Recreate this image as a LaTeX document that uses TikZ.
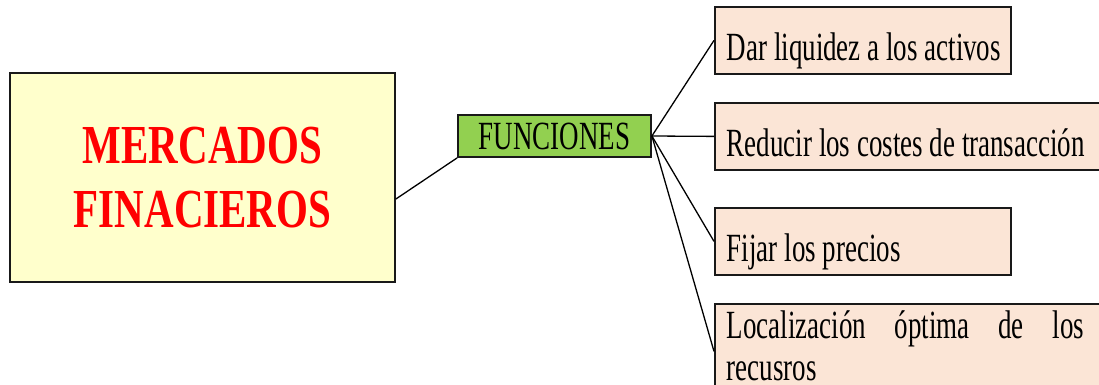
\documentclass[tikz,border=0pt]{standalone}
\usepackage{fontspec}
\setmainfont{Liberation Serif}
\newfontfamily\condfont[FakeStretch=0.674]{Liberation Serif}
\newfontfamily\bigcond[FakeStretch=0.745]{Liberation Serif}
\definecolor{yellowc}{HTML}{FFFFCC}
\definecolor{greenc}{HTML}{92D050}
\definecolor{peachc}{HTML}{FBE5D6}
\begin{document}
\begin{tikzpicture}[x=1pt,y=-1pt,
  boxline/.style={draw=black!90, line width=1.8pt},
  conn/.style={draw=black, line width=1.3pt},
  peach/.style={boxline, fill=peachc, inner xsep=12pt, inner ysep=0pt,
    font=\condfont\fontsize{40}{44}\selectfont, text height=54pt, text depth=13pt}]
\useasboundingbox (0,0) rectangle (1099,385);
\clip (0,0) rectangle (1099,385);
\node[boxline, fill=yellowc, minimum width=385pt, minimum height=209pt, inner sep=0pt,
  align=center, text=red, font=\bigcond\bfseries\fontsize{55}{64}\selectfont]
  (mf) at (202.5,177.5) {MERCADOS\\FINACIEROS};
\node[boxline, fill=greenc, minimum width=193pt, minimum height=42pt, inner sep=0pt,
  font=\condfont\fontsize{40}{44}\selectfont] (fn) at (554.5,136) {FUNCIONES};
\node[peach, anchor=north west] (f1) at (714,6) {\makebox[272pt][l]{Dar liquidez a los activos}};
\node[peach, anchor=north west] (f2) at (714,102) {Reducir los costes de transacción\hspace*{40pt}};
\node[peach, anchor=north west] (f3) at (714,207) {\makebox[272pt][l]{Fijar los precios}};
\node[peach, anchor=north west, text height=35pt, text depth=60pt] (f4) at (714,303)
  {\parbox[t]{357pt}{\fontsize{40}{42}\selectfont Localización óptima de los\linebreak recusros}\hspace*{40pt}};
\draw[conn] ([yshift=-21.5pt]mf.east) -- (fn.south west);
\draw[conn] (fn.east) -- (f1.west);
\draw[conn] (fn.east) -- (f2.west);
\draw[conn] (fn.east) -- (f3.west);
\draw[conn] (fn.east) -- (f4.west);
\end{tikzpicture}
\end{document}
